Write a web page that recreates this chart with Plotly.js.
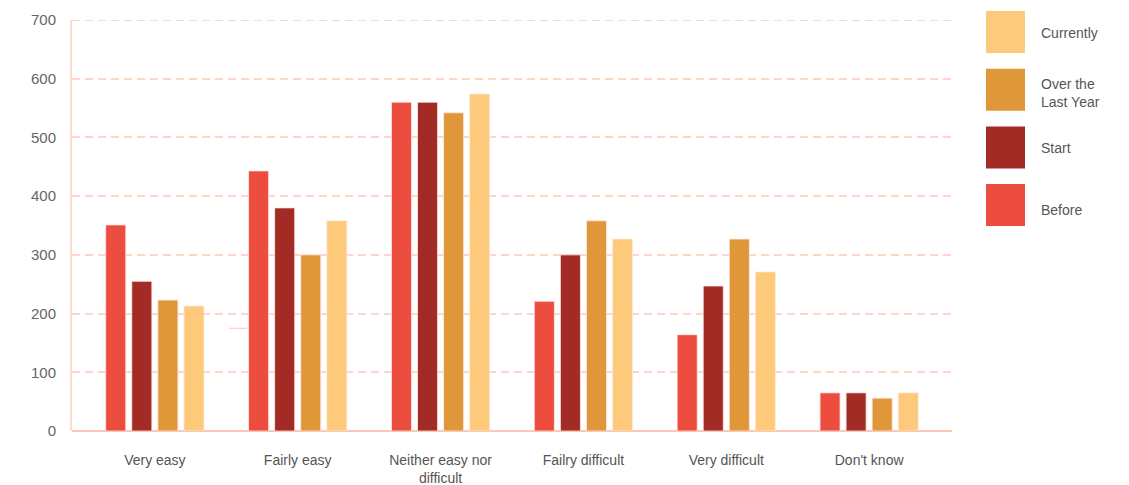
<!DOCTYPE html>
<html>
<head>
<meta charset="utf-8">
<script src="https://cdn.plot.ly/plotly-3.0.1.min.js"></script>
<style>
  html, body { margin: 0; padding: 0; background: #fff; }
  #chart { width: 1129px; height: 485px; }
</style>
</head>
<body>
<div id="chart"></div>
<script>
// Responses per difficulty level, one series per period
const categories = ["Very easy", "Fairly easy", "Neither easy nor<br>difficult", "Failry difficult", "Very difficult", "Don't know"];
const before      = [351, 443, 560, 221, 164, 65];
const start       = [255, 380, 560, 300, 247, 65];
const overLastYear = [223, 300, 542, 358, 327, 56];
const currently   = [213, 358, 574, 327, 271, 65];

const seriesNames  = ["Before", "Start", "Over the<br>Last Year", "Currently"];
const seriesValues = [before, start, overLastYear, currently];
const seriesColors = ["#ec4d3e", "#a32b25", "#e0973a", "#fdc97b"];

const yTicks = [0, 100, 200, 300, 400, 500, 600, 700];

const FONT = '"Liberation Sans", Arial, sans-serif';
const GRID = "#fdd6c9";

const traces = seriesNames.map((name, i) => ({
  type: "bar",
  name: name,
  x: categories,
  y: seriesValues[i],
  marker: { color: seriesColors[i], line: { color: "rgba(255,235,230,0.8)", width: 1 } },
  hoverinfo: "y+name",
  showlegend: false
}));

// Custom legend: large swatches stacked top-down, newest period first
const px = (x) => (x - 72) / 880;       // pixel column -> paper x
const py = (y) => 1 - (y - 20) / 411;   // pixel row -> paper y
const legendShapes = [];
const legendLabels = [];
const order = [3, 2, 1, 0];
const labelNudge = [1, 3, 1, 5];
order.forEach((idx, row) => {
  const top = 11 + row * 57.7;
  legendShapes.push({
    type: "rect", xref: "paper", yref: "paper",
    x0: px(986), x1: px(1025), y0: py(top + 42), y1: py(top),
    fillcolor: seriesColors[idx], line: { width: 0 }
  });
  legendLabels.push({
    xref: "paper", yref: "paper",
    x: px(1039), y: py(top + 21 + labelNudge[row]),
    xanchor: "left", yanchor: "middle", align: "left",
    text: seriesNames[idx], showarrow: false,
    font: { family: FONT, size: 14, color: "#555" }
  });
});

const layout = {
  width: 1129, height: 485,
  margin: { l: 72, r: 177, t: 20, b: 54 },
  paper_bgcolor: "#fff", plot_bgcolor: "#fff",
  barmode: "group",
  bargap: 0.27,
  bargroupgap: 0.23,
  showlegend: false,
  xaxis: {
    range: [-0.58, 5.58],
    showgrid: false, zeroline: false,
    showline: false,
    ticks: "", ticklabelstandoff: 19,
    tickfont: { family: FONT, size: 14, color: "#555" },
    fixedrange: true
  },
  yaxis: {
    range: [0, 700],
    tickvals: yTicks,
    showgrid: true, gridcolor: GRID, griddash: "8px,5px", gridwidth: 2,
    zeroline: true, zerolinecolor: "#fbc6b6", zerolinewidth: 1.5,
    showline: true, linecolor: "#fddcd2", linewidth: 2,
    ticks: "", ticklabelstandoff: 11,
    tickfont: { family: FONT, size: 15, color: "#666" },
    fixedrange: true
  },
  shapes: legendShapes.concat([
    // top gridline at the end of the value range
    { type: "line", xref: "paper", yref: "y", x0: 0, x1: 1, y0: 700, y1: 700,
      line: { color: GRID, width: 2, dash: "8px,5px" } },
    { type: "line", xref: "paper", yref: "y", x0: px(229), x1: px(247),
      y0: 175, y1: 175, line: { color: "#fbc6b6", width: 1 } }
  ]),
  annotations: legendLabels
};

Plotly.newPlot("chart", traces, layout, { displayModeBar: false, staticPlot: true });
</script>
</body>
</html>
